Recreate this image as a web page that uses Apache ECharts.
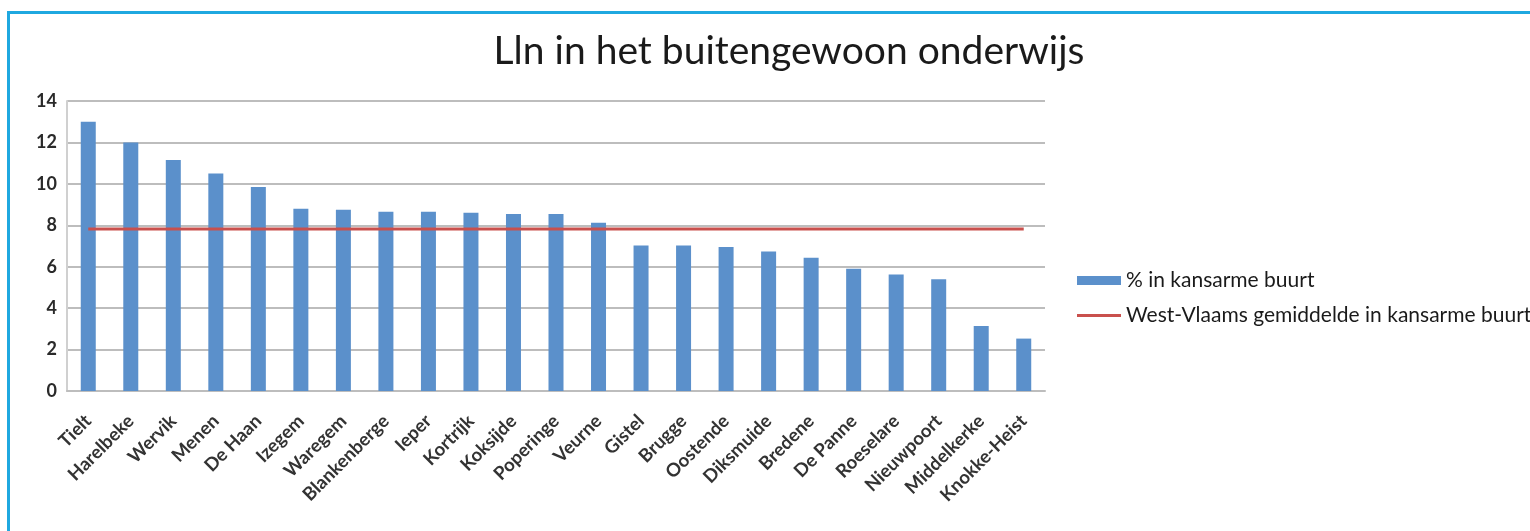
<!DOCTYPE html>
<html>
<head>
<meta charset="utf-8">
<script src="https://cdn.jsdelivr.net/npm/echarts@6/dist/echarts.min.js"></script>
<style>
  html, body { margin: 0; padding: 0; background: #fff; }
  #frame {
    position: absolute; left: 7px; top: 11px; width: 1530px; height: 531px;
    border-top: 3px solid #1fa8e0; border-left: 3px solid #1fa8e0;
  }
  #chart { position: absolute; left: 0; top: 0; width: 1530px; height: 531px; }
</style>
</head>
<body>
<div id="frame"></div>
<div id="chart"></div>
<script>
// gemeenten, gesorteerd zoals in de grafiek
const gemeenten = ['Tielt', 'Harelbeke', 'Wervik', 'Menen', 'De Haan', 'Izegem', 'Waregem',
  'Blankenberge', 'Ieper', 'Kortrijk', 'Koksijde', 'Poperinge', 'Veurne', 'Gistel', 'Brugge',
  'Oostende', 'Diksmuide', 'Bredene', 'De Panne', 'Roeselare', 'Nieuwpoort', 'Middelkerke', 'Knokke-Heist'];

const pctKansarm = [13.0, 12.0, 11.15, 10.5, 9.85, 8.8, 8.75, 8.65, 8.65, 8.6, 8.55, 8.55, 8.12,
  7.02, 7.02, 6.95, 6.73, 6.43, 5.9, 5.63, 5.39, 3.14, 2.53];

const westVlaamsGemiddelde = 7.82;
const gemiddeldeLijn = gemeenten.map(() => westVlaamsGemiddelde);

const yTicks = [0, 2, 4, 6, 8, 10, 12, 14];

const chart = echarts.init(document.getElementById('chart'));

chart.setOption({
  animation: false,
  title: {
    text: 'Lln in het buitengewoon onderwijs',
    left: 784,
    top: 27,
    textAlign: 'center',
    textStyle: {
      fontFamily: 'Lato',
      fontSize: 39,
      fontWeight: 'normal',
      color: '#1a1a1a'
    }
  },
  legend: {
    orient: 'vertical',
    left: 1077,
    top: 270,
    padding: 0,
    itemGap: 14,
    itemWidth: 44,
    itemHeight: 9,
    textStyle: { fontFamily: 'Lato', fontSize: 21, color: '#1a1a1a' },
    data: [
      { name: '% in kansarme buurt', icon: 'rect' },
      // dunne lijn als legendasymbool
      { name: 'West-Vlaams gemiddelde in kansarme buurt', icon: 'path://M0,0 L44,0 L44,3 L0,3 Z' }
    ]
  },
  grid: { left: 67, right: 485, top: 101, bottom: 140 },
  xAxis: {
    type: 'category',
    data: gemeenten,
    axisLine: { lineStyle: { color: '#bdbdbd', width: 2 } },
    axisTick: { show: false },
    axisLabel: {
      rotate: 45,
      interval: 0,
      margin: 27,
      fontFamily: 'Lato',
      fontSize: 18.5,
      fontWeight: 'bold',
      color: '#333'
    }
  },
  yAxis: {
    type: 'value',
    min: 0,
    max: yTicks[yTicks.length - 1],
    interval: 2,
    axisLine: { show: true, lineStyle: { color: '#d0d0d0', width: 2 } },
    axisTick: { show: false },
    splitLine: { lineStyle: { color: '#bdbdbd', width: 2 } },
    axisLabel: {
      margin: 10,
      fontFamily: 'Lato',
      fontSize: 18,
      fontWeight: 'bold',
      color: '#2a2a2a'
    }
  },
  series: [
    {
      name: '% in kansarme buurt',
      type: 'bar',
      data: pctKansarm,
      barWidth: 15,
      itemStyle: { color: '#5b90cb' }
    },
    {
      name: 'West-Vlaams gemiddelde in kansarme buurt',
      type: 'line',
      data: gemiddeldeLijn,
      symbol: 'none',
      lineStyle: { color: '#c9504d', width: 3 },
      itemStyle: { color: '#c9504d' }
    }
  ]
});
</script>
</body>
</html>
